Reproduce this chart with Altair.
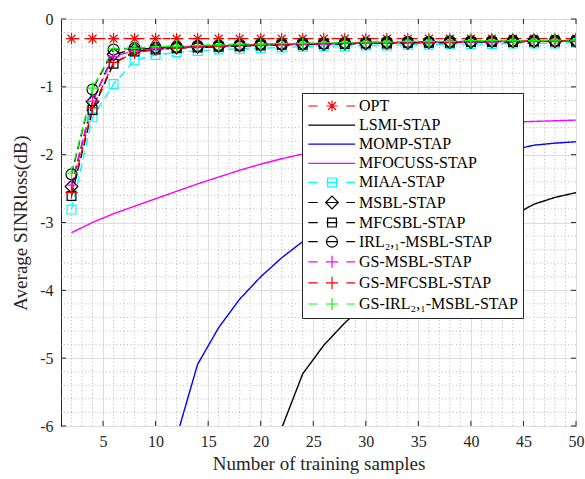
import altair as alt
import pandas as pd

# ---------------- data ----------------
x_samples = [2, 4, 6, 8, 10, 12, 14, 16, 18, 20, 22, 24, 26, 28, 30,
             32, 34, 36, 38, 40, 42, 44, 46, 48, 50]

opt = [-0.29, -0.29, -0.29, -0.29, -0.29, -0.29, -0.29, -0.29, -0.29, -0.29,
       -0.29, -0.29, -0.29, -0.29, -0.29, -0.29, -0.29, -0.29, -0.29, -0.29,
       -0.29, -0.29, -0.29, -0.29, -0.29]

lsmi_x = [22, 24, 26, 28, 30, 32, 34, 36, 38, 40, 42, 44, 46, 48, 50]
lsmi = [-6.03, -5.23, -4.81, -4.48, -4.20, -3.95, -3.73, -3.53, -3.36, -3.20,
        -3.05, -2.90, -2.73, -2.63, -2.56]

momp_x = [12, 14, 16, 18, 20, 22, 24, 26, 28, 30, 32, 34, 36, 38, 40, 42, 44, 46, 48, 50]
momp = [-6.16, -5.09, -4.55, -4.13, -3.80, -3.52, -3.28, -3.07, -2.88, -2.72,
        -2.58, -2.45, -2.34, -2.23, -2.13, -2.03, -1.93, -1.86, -1.83, -1.81]

mfocuss = [-3.15, -3.00, -2.87, -2.76, -2.65, -2.54, -2.43, -2.33, -2.23, -2.14,
           -2.06, -1.99, -1.92, -1.86, -1.80, -1.75, -1.70, -1.66, -1.62, -1.58,
           -1.55, -1.52, -1.51, -1.50, -1.49]

miaa = [-2.81, -1.45, -0.96, -0.61, -0.53, -0.49, -0.47, -0.45, -0.44, -0.43,
        -0.42, -0.41, -0.40, -0.40, -0.39, -0.39, -0.38, -0.38, -0.37, -0.37,
        -0.37, -0.36, -0.36, -0.36, -0.35]

msbl = [-2.47, -1.22, -0.52, -0.45, -0.43, -0.42, -0.41, -0.40, -0.39, -0.38,
        -0.38, -0.37, -0.37, -0.36, -0.36, -0.35, -0.35, -0.34, -0.34, -0.34,
        -0.33, -0.33, -0.33, -0.33, -0.32]

mfcsbl = [-2.61, -1.34, -0.66, -0.48, -0.45, -0.43, -0.42, -0.41, -0.40, -0.39,
          -0.38, -0.38, -0.37, -0.37, -0.36, -0.36, -0.35, -0.35, -0.35, -0.34,
          -0.34, -0.34, -0.33, -0.33, -0.33]

irl = [-2.29, -1.04, -0.45, -0.43, -0.42, -0.41, -0.40, -0.39, -0.38, -0.37,
       -0.37, -0.36, -0.36, -0.35, -0.35, -0.34, -0.34, -0.34, -0.33, -0.33,
       -0.33, -0.32, -0.32, -0.32, -0.32]

gs_msbl = [-2.45, -1.21, -0.55, -0.47, -0.44, -0.42, -0.41, -0.40, -0.39, -0.39,
           -0.38, -0.37, -0.37, -0.36, -0.36, -0.35, -0.35, -0.35, -0.34, -0.34,
           -0.34, -0.33, -0.33, -0.33, -0.33]

gs_mfcsbl = [-2.56, -1.31, -0.64, -0.50, -0.45, -0.43, -0.41, -0.40, -0.39, -0.38,
             -0.37, -0.37, -0.36, -0.36, -0.35, -0.35, -0.34, -0.34, -0.34, -0.33,
             -0.33, -0.33, -0.32, -0.32, -0.32]

gs_irl = [-2.27, -1.02, -0.44, -0.43, -0.41, -0.40, -0.39, -0.38, -0.37, -0.37,
          -0.36, -0.36, -0.35, -0.35, -0.34, -0.34, -0.33, -0.33, -0.33, -0.32,
          -0.32, -0.32, -0.32, -0.31, -0.31]

names = ["OPT", "LSMI-STAP", "MOMP-STAP", "MFOCUSS-STAP", "MIAA-STAP", "MSBL-STAP",
         "MFCSBL-STAP", "IRL\u2082,\u2081-MSBL-STAP", "GS-MSBL-STAP", "GS-MFCSBL-STAP",
         "GS-IRL\u2082,\u2081-MSBL-STAP"]
series_x = [x_samples, lsmi_x, momp_x, x_samples, x_samples, x_samples,
            x_samples, x_samples, x_samples, x_samples, x_samples]
series_y = [opt, lsmi, momp, mfocuss, miaa, msbl, mfcsbl, irl, gs_msbl, gs_mfcsbl, gs_irl]

x_ticks = [5, 10, 15, 20, 25, 30, 35, 40, 45, 50]
y_ticks = [-6, -5, -4, -3, -2, -1, 0]
x_minor = [v for v in range(2, 50) if v % 5 != 0]
y_minor = [round(-6 + 0.2 * k, 1) for k in range(1, 30) if k % 5 != 0]

X_MIN, X_MAX, Y_MIN, Y_MAX = 1, 50, -6, 0
TX = 0.48   # inner tick length in x units (~5 px)
TY = 0.075  # inner tick length in y units (~5 px)

# ---------------- styles ----------------
colors = ["#ff0000", "#000000", "#0000ff", "#ff00ff", "#00ffff", "#000000",
          "#000000", "#000000", "#ff00ff", "#ff0000", "#00ff00"]
DASH = [8, 5]
SOLID = [1, 0]
dashes = [DASH, SOLID, SOLID, SOLID, DASH, DASH, DASH, DASH, DASH, DASH, DASH]

AST = "M-1,0H1M0,-1V1M-0.72,-0.72L0.72,0.72M-0.72,0.72L0.72,-0.72"
SQ = "M-0.8,-0.8H0.8V0.8H-0.8Z"
DIA = "M0,-1.15L1.15,0L0,1.15L-1.15,0Z"
CIR = "M1,0A1,1,0,1,1,-1,0A1,1,0,1,1,1,0Z"
PLUS = "M-1.1,0H1.1M0,-1.1V1.1"
marker_names = ["OPT", "MIAA-STAP", "MSBL-STAP", "MFCSBL-STAP", names[7],
                "GS-MSBL-STAP", "GS-MFCSBL-STAP", names[10]]
marker_paths = [AST, SQ, DIA, SQ, CIR, PLUS, PLUS, PLUS]

DSEG = "M-4.3,0H-2.6M2.6,0H4.2"
MID = "M-1,0H1"
legend_paths = [DSEG + AST, "M-4.3,0H4.2", "M-4.3,0H4.2", "M-4.3,0H4.2",
                DSEG + SQ + MID, DSEG + DIA + MID, DSEG + SQ + MID, DSEG + CIR + MID,
                DSEG + PLUS, DSEG + PLUS, DSEG + PLUS]

rows = []
for i, (nm, xs, ys) in enumerate(zip(names, series_x, series_y)):
    for xv, yv in zip(xs, ys):
        rows.append({"series": nm, "x": xv, "y": yv, "k": i})
df = pd.DataFrame(rows)
df_markers = df[df["series"].isin(marker_names)]

FONT = "Liberation Serif"
TXT = "#262626"

xscale = alt.Scale(domain=[X_MIN, X_MAX], nice=False, zero=False)
yscale = alt.Scale(domain=[Y_MIN, Y_MAX], nice=False, zero=False)
xaxis = alt.Axis(values=x_ticks, title="Number of training samples", grid=True,
                 gridColor="#dedede", gridWidth=1, ticks=False, domain=False,
                 labelFont=FONT, labelFontSize=16, labelColor=TXT, labelPadding=7,
                 labelFlush=False, titleFont=FONT, titleFontSize=19,
                 titleFontWeight="normal", titleColor=TXT, titlePadding=5)
yaxis = alt.Axis(values=y_ticks, title="Average SINRloss(dB)", grid=True,
                 gridColor="#dedede", gridWidth=1, ticks=False, domain=False,
                 labelFont=FONT, labelFontSize=16, labelColor=TXT, labelPadding=8,
                 labelExpr="'' + datum.value", labelFlush=False,
                 titleFont=FONT, titleFontSize=19, titleFontWeight="normal",
                 titleColor=TXT, titlePadding=9)


def X(f):
    return alt.X(f + ":Q", scale=xscale, axis=xaxis)


def Y(f):
    return alt.Y(f + ":Q", scale=yscale, axis=yaxis)


color_scale = alt.Scale(domain=names, range=colors)

minor_style = dict(color="#bcbcbc", strokeWidth=1, strokeDash=[1, 2.5])
vminor = alt.Chart(pd.DataFrame({"xm": x_minor})).mark_rule(**minor_style).encode(x=X("xm"))
hminor = alt.Chart(pd.DataFrame({"ym": y_minor})).mark_rule(**minor_style).encode(y=Y("ym"))

# inner ticks (MATLAB style box ticks)
xt = pd.DataFrame({"tx": x_ticks})
yt = pd.DataFrame({"ty": y_ticks})
tick_style = dict(color=TXT, strokeWidth=1)
ticks_bottom = alt.Chart(xt).transform_calculate(a=str(Y_MIN), b=str(Y_MIN + TY)).mark_rule(
    **tick_style).encode(x=X("tx"), y=Y("a"), y2="b:Q")
ticks_top = alt.Chart(xt).transform_calculate(a=str(Y_MAX), b=str(Y_MAX - TY)).mark_rule(
    **tick_style).encode(x=X("tx"), y=Y("a"), y2="b:Q")
ticks_left = alt.Chart(yt).transform_calculate(a=str(X_MIN), b=str(X_MIN + TX)).mark_rule(
    **tick_style).encode(y=Y("ty"), x=X("a"), x2="b:Q")
ticks_right = alt.Chart(yt).transform_calculate(a=str(X_MAX), b=str(X_MAX - TX)).mark_rule(
    **tick_style).encode(y=Y("ty"), x=X("a"), x2="b:Q")

lines = alt.Chart(df).mark_line(clip=True, strokeWidth=1.4).encode(
    x=X("x"), y=Y("y"),
    color=alt.Color("series:N", scale=color_scale, legend=None),
    strokeDash=alt.StrokeDash("series:N", scale=alt.Scale(domain=names, range=dashes),
                              legend=None),
    detail="k:O",
)

points = alt.Chart(df_markers).mark_point(
    clip=True, filled=False, size=121, strokeWidth=1.2, opacity=1).encode(
    x=X("x"), y=Y("y"),
    color=alt.Color("series:N", scale=color_scale, legend=None),
    shape=alt.Shape("series:N", scale=alt.Scale(domain=marker_names, range=marker_paths),
                    legend=None),
)

leg = alt.Legend(title=None, orient="none", legendX=241, legendY=74, padding=5,
                 strokeColor="#262626", fillColor="white", labelFont=FONT,
                 labelFontSize=16, labelColor="black", symbolSize=121,
                 symbolStrokeWidth=1.2, symbolOffset=17, labelOffset=19,
                 rowPadding=3.1, labelLimit=400, offset=0)

legend_layer = alt.Chart(df).transform_filter("datum.x < 0").mark_point(
    filled=False, size=121, strokeWidth=1.2, opacity=1).encode(
    x=X("x"), y=Y("y"),
    color=alt.Color("series:N", scale=color_scale, legend=leg),
    shape=alt.Shape("series:N", scale=alt.Scale(domain=names, range=legend_paths),
                    legend=leg),
)

chart = alt.layer(vminor, hminor, ticks_bottom, ticks_top, ticks_left, ticks_right,
                  lines, points, legend_layer).resolve_scale(
    color="independent", shape="independent", strokeDash="independent"
).properties(
    width=515, height=407,
    autosize=alt.AutoSizeParams(type="none"),
    padding={"left": 61, "top": 19, "right": 9, "bottom": 53},
    background="white",
).configure_view(stroke="#262626", strokeWidth=1)

chart.save("out.html", embed_options={"renderer": "svg", "actions": False})
